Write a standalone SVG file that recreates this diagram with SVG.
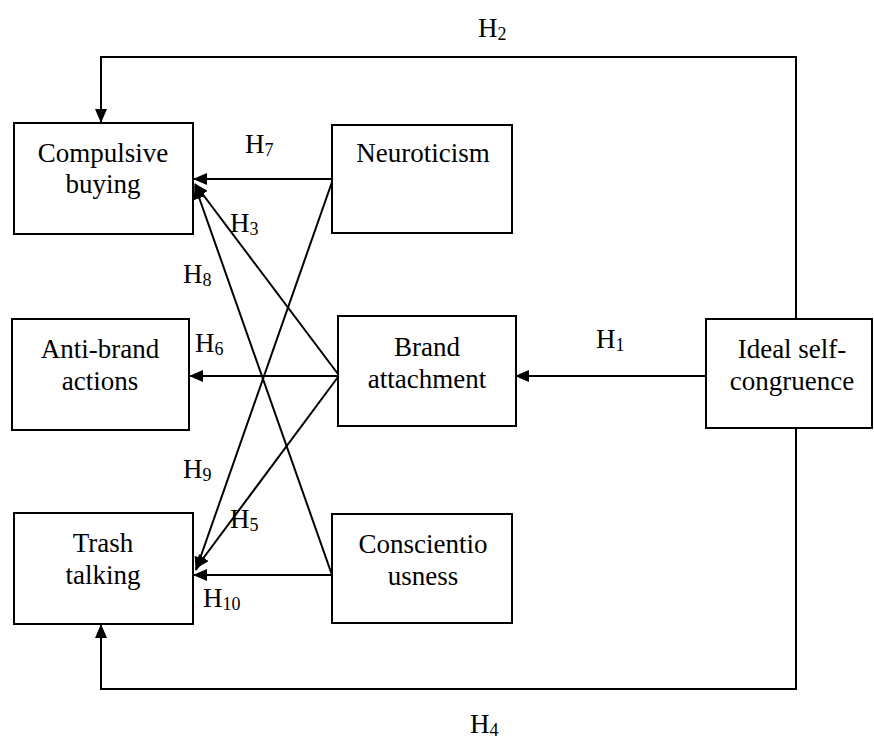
<svg xmlns="http://www.w3.org/2000/svg" width="874" height="740" viewBox="0 0 874 740" font-family="'Liberation Serif', 'Times New Roman', 'DejaVu Serif', serif">
<style>
.box{fill:#fff;stroke:#000;stroke-width:2}
.t{font-family:'Liberation Serif','Times New Roman','DejaVu Serif',serif;font-size:27px;fill:#000;text-anchor:middle}
.h{font-family:'Liberation Serif','Times New Roman','DejaVu Serif',serif;font-size:27px;fill:#000}
.s{font-size:18px}
.c{fill:none;stroke:#000;stroke-width:2}
</style>
<defs>
<marker id="arr" markerUnits="userSpaceOnUse" markerWidth="14" markerHeight="12" refX="13" refY="6" orient="auto" viewBox="0 0 14 12">
<path d="M0,0 L14,6 L0,12 z" fill="#000"/>
</marker>
</defs>
<g id="connectors">
<polyline class="c" points="796,319 796,57 101,57 101,122" marker-end="url(#arr)"/>
<polyline class="c" points="796,428 796,689 101,689 101,625" marker-end="url(#arr)"/>
<line class="c" x1="706" y1="376" x2="516" y2="376" marker-end="url(#arr)"/>
<line class="c" x1="338" y1="376" x2="190" y2="376" marker-end="url(#arr)"/>
<line class="c" x1="332" y1="179" x2="194" y2="179" marker-end="url(#arr)"/>
<line class="c" x1="332" y1="575" x2="194" y2="575" marker-end="url(#arr)"/>
<line class="c" x1="338" y1="374" x2="195" y2="184" marker-end="url(#arr)"/>
<line class="c" x1="332" y1="575" x2="195" y2="186" marker-end="url(#arr)"/>
<line class="c" x1="332" y1="182" x2="196" y2="570" marker-end="url(#arr)"/>
<line class="c" x1="338" y1="377" x2="196" y2="568" marker-end="url(#arr)"/>
</g>
<g id="labels">
<text class="h" x="478" y="37">H<tspan class="s" dy="3">2</tspan></text>
<text class="h" x="245" y="153">H<tspan class="s" dy="3">7</tspan></text>
<text class="h" x="230" y="232">H<tspan class="s" dy="3">3</tspan></text>
<text class="h" x="183" y="283">H<tspan class="s" dy="3">8</tspan></text>
<text class="h" x="195" y="352">H<tspan class="s" dy="3">6</tspan></text>
<text class="h" x="596" y="348">H<tspan class="s" dy="3">1</tspan></text>
<text class="h" x="183" y="478">H<tspan class="s" dy="3">9</tspan></text>
<text class="h" x="230" y="528">H<tspan class="s" dy="3">5</tspan></text>
<text class="h" x="203" y="607">H<tspan class="s" dy="3">10</tspan></text>
<text class="h" x="470" y="733">H<tspan class="s" dy="3">4</tspan></text>
</g>
<g id="compulsive-buying">
<rect class="box" x="14" y="123" width="179" height="111"/>
<text class="t" x="103" y="162">Compulsive</text>
<text class="t" x="103" y="193">buying</text>
</g>
<g id="neuroticism">
<rect class="box" x="332" y="125" width="180" height="108"/>
<text class="t" x="423" y="162">Neuroticism</text>
</g>
<g id="anti-brand-actions">
<rect class="box" x="12" y="319" width="177" height="111"/>
<text class="t" x="100" y="358">Anti-brand</text>
<text class="t" x="100" y="390">actions</text>
</g>
<g id="brand-attachment">
<rect class="box" x="338" y="316" width="178" height="110"/>
<text class="t" x="427" y="356">Brand</text>
<text class="t" x="427" y="388">attachment</text>
</g>
<g id="ideal-self-congruence">
<rect class="box" x="706" y="319" width="166" height="109"/>
<text class="t" x="792" y="358">Ideal self-</text>
<text class="t" x="792" y="390">congruence</text>
</g>
<g id="trash-talking">
<rect class="box" x="14" y="513" width="179" height="111"/>
<text class="t" x="103" y="552">Trash</text>
<text class="t" x="103" y="584">talking</text>
</g>
<g id="conscientiousness">
<rect class="box" x="332" y="514" width="180" height="109"/>
<text class="t" x="423" y="553">Conscientio</text>
<text class="t" x="423" y="585">usness</text>
</g>
</svg>
